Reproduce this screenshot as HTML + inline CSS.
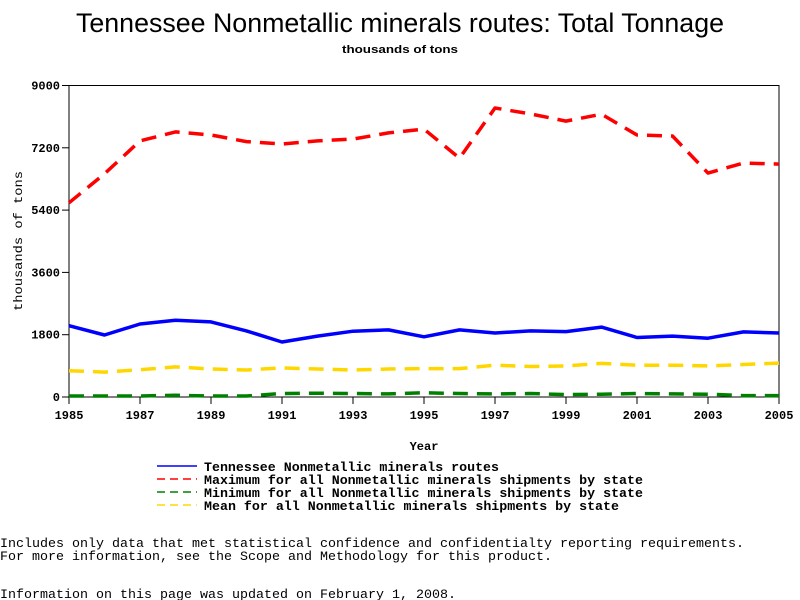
<!DOCTYPE html>
<html><head><meta charset="utf-8"><style>
body{margin:0;background:#fff;}
svg{display:block;}
</style></head><body>
<svg id="chart" width="800" height="600" xmlns="http://www.w3.org/2000/svg">
<text x="400" y="32" text-anchor="middle" font-family="Liberation Sans, sans-serif" font-size="27" textLength="648" lengthAdjust="spacingAndGlyphs">Tennessee Nonmetallic minerals routes: Total Tonnage</text>
<text x="400" y="53" text-anchor="middle" font-family="Liberation Sans, sans-serif" font-size="11" font-weight="bold" textLength="116" lengthAdjust="spacingAndGlyphs">thousands of tons</text>
<text transform="translate(22,241) rotate(-90)" text-anchor="middle" font-family="Liberation Mono, monospace" font-size="12" textLength="140" lengthAdjust="spacingAndGlyphs">thousands of tons</text>
<text x="424" y="450" text-anchor="middle" font-family="Liberation Mono, monospace" font-size="12" font-weight="bold">Year</text>
<g id="axes"></g>
<g id="series"></g>
<g font-family="Liberation Mono, monospace" font-size="13" font-weight="bold">
<g><line x1="157" y1="466" x2="197" y2="466" stroke="#0000ff" stroke-width="1.5"/><text x="204" y="471" textLength="295" lengthAdjust="spacingAndGlyphs">Tennessee Nonmetallic minerals routes</text></g>
<g><line x1="157" y1="479" x2="197" y2="479" stroke="#ff0000" stroke-width="1.5" stroke-dasharray="8,5"/><text x="204" y="484" textLength="439" lengthAdjust="spacingAndGlyphs">Maximum for all Nonmetallic minerals shipments by state</text></g>
<g><line x1="157" y1="492" x2="197" y2="492" stroke="#008000" stroke-width="1.5" stroke-dasharray="8,5"/><text x="204" y="497" textLength="439" lengthAdjust="spacingAndGlyphs">Minimum for all Nonmetallic minerals shipments by state</text></g>
<g><line x1="157" y1="505" x2="197" y2="505" stroke="#ffd700" stroke-width="1.5" stroke-dasharray="8,5"/><text x="204" y="510" textLength="415" lengthAdjust="spacingAndGlyphs">Mean for all Nonmetallic minerals shipments by state</text></g>
</g>
<g font-family="Liberation Mono, monospace" font-size="13">
<text x="0" y="547" textLength="744" lengthAdjust="spacingAndGlyphs">Includes only data that met statistical confidence and confidentialty reporting requirements.</text>
<text x="0" y="560" textLength="552" lengthAdjust="spacingAndGlyphs">For more information, see the Scope and Methodology for this product.</text>
<text x="0" y="598" textLength="456" lengthAdjust="spacingAndGlyphs">Information on this page was updated on February 1, 2008.</text>
</g>
</svg>
<script>
const years = [1985,1986,1987,1988,1989,1990,1991,1992,1993,1994,1995,1996,1997,1998,1999,2000,2001,2002,2003,2004,2005];
const tennessee = [2060,1790,2110,2220,2170,1910,1590,1760,1900,1940,1740,1940,1850,1910,1890,2020,1720,1760,1700,1880,1850];
const maximum = [5610,6450,7400,7660,7570,7380,7310,7400,7450,7630,7740,6900,8350,8180,7970,8170,7570,7540,6470,6760,6730];
const minimum = [30,30,30,50,30,30,100,110,100,90,120,100,90,100,70,80,100,90,80,40,40];
const mean = [760,720,790,870,810,780,840,810,780,810,820,820,920,880,900,970,920,920,900,940,980];
const yTicks = [0,1800,3600,5400,7200,9000];
const xTickLabels = [1985,1987,1989,1991,1993,1995,1997,1999,2001,2003,2005];

const NS='http://www.w3.org/2000/svg';
const X0=69, X1=779, Y0=397, Y1=85.5;
function xs(v){return X0+(v-1985)/(2005-1985)*(X1-X0);}
function ys(v){return Y0-v/9000*(Y0-Y1);}
function mk(tag,attrs,parent){const e=document.createElementNS(NS,tag);for(const k in attrs)e.setAttribute(k,attrs[k]);parent.appendChild(e);return e;}

const axes=document.getElementById('axes');
const frame=mk('rect',{x:X0,y:Y1,width:X1-X0,height:Y0-Y1,fill:'none',stroke:'#000','stroke-width':1},axes);


yTicks.forEach(t=>{
  const y=ys(t);
  const l=mk('line',{x1:X0-7,y1:y,x2:X0,y2:y,stroke:'#000'},axes);
  
  
  const tx=mk('text',{x:X0-9,y:y+4,'text-anchor':'end','font-family':'Liberation Mono, monospace','font-size':12,'font-weight':'bold'},axes);
  tx.textContent=t;
  
  
});
xTickLabels.forEach(t=>{
  const x=xs(t);
  const l=mk('line',{x1:x,y1:Y0,x2:x,y2:Y0+7,stroke:'#000'},axes);
  
  
  const tx=mk('text',{x:x,y:Y0+22,'text-anchor':'middle','font-family':'Liberation Mono, monospace','font-size':12,'font-weight':'bold'},axes);
  tx.textContent=t;
  
  
});

const series=document.getElementById('series');
function draw(vals,color,dash,name){
  const pts=vals.map((v,i)=>xs(years[i]).toFixed(1)+','+ys(v).toFixed(1)).join(' ');
  const attrs={points:pts,fill:'none',stroke:color,'stroke-width':3.5,'stroke-linejoin':'round'};
  if(dash)attrs['stroke-dasharray']=dash;
  const p=mk('polyline',attrs,series);
  
  
}
draw(minimum,'#008000','15,9','line-minimum');
draw(mean,'#ffd700','15,9','line-mean');
draw(maximum,'#ff0000','15,9','line-maximum');
draw(tennessee,'#0000ff',null,'line-tennessee');
</script>
</body></html>
